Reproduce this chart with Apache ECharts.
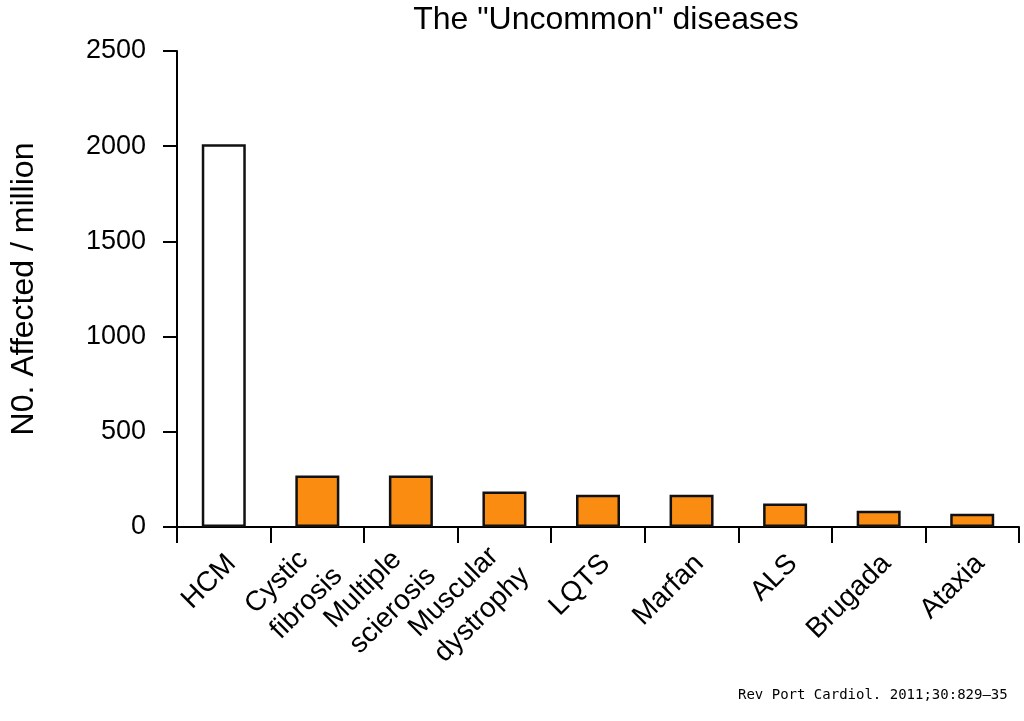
<!DOCTYPE html>
<html>
<head>
<meta charset="utf-8">
<script src="https://cdn.jsdelivr.net/npm/echarts@6/dist/echarts.min.js"></script>
<style>html,body{margin:0;padding:0;background:#fff;}#c{width:1024px;height:721px;}</style>
</head>
<body>
<div id="c"></div>
<script>
const categories = ['HCM', 'Cystic\nfibrosis', 'Multiple\nscierosis', 'Muscular\ndystrophy', 'LQTS', 'Marfan', 'ALS', 'Brugada', 'Ataxia'];
const values = [2010, 270, 270, 187, 170, 170, 124, 86, 70];
const barColors = ['#ffffff', '#fa8c12', '#fa8c12', '#fa8c12', '#fa8c12', '#fa8c12', '#fa8c12', '#fa8c12', '#fa8c12'];
const yTicks = { min: 0, max: 2500, interval: 500 };
const titleText = 'The "Uncommon" diseases';
const yName = 'N0. Affected / million';
const sourceText = 'Rev Port Cardiol. 2011;30:829\u201335';

const chart = echarts.init(document.getElementById('c'));
const FONT = 'Liberation Sans, Arial, Helvetica, sans-serif';
chart.setOption({
  backgroundColor: '#fff',
  animation: false,
  title: {
    text: titleText, left: 601, top: -1, textAlign: 'center',
    textStyle: { fontFamily: FONT, fontSize: 32, fontWeight: 'normal', color: '#000' }
  },
  grid: { left: 176, right: 5, top: 51, bottom: 194, containLabel: false },
  xAxis: {
    type: 'category', data: categories, boundaryGap: true,
    axisLine: { lineStyle: { color: '#000', width: 2 } },
    axisTick: { show: true, length: 16, lineStyle: { color: '#000', width: 2 } },
    axisLabel: {
      interval: 0, rotate: 45, margin: 40, align: 'right', verticalAlign: 'middle',
      padding: [0, -11, 0, 0],
      fontFamily: FONT, fontSize: 28, color: '#000', lineHeight: 36,
      formatter: v => v.split('\n').map(s => '{c|' + s + '}').join('\n'),
      rich: { c: { align: 'left', fontFamily: FONT, fontSize: 28, color: '#000', lineHeight: 36 } }
    },
    splitLine: { show: false }
  },
  yAxis: {
    type: 'value', min: yTicks.min, max: yTicks.max, interval: yTicks.interval,
    name: yName, nameLocation: 'middle', nameGap: 137, nameRotate: 90,
    nameTextStyle: { fontFamily: FONT, fontSize: 32, color: '#000' },
    axisLine: { show: true, lineStyle: { color: '#000', width: 2 } },
    axisTick: { show: true, length: 14, lineStyle: { color: '#000', width: 2 } },
    axisLabel: { margin: 31, fontFamily: FONT, fontSize: 27, color: '#000', formatter: v => String(v) },
    splitLine: { show: false }
  },
  series: [{
    type: 'bar', barWidth: 44,
    data: values.map((v, i) => ({ value: v, itemStyle: { color: barColors[i] } })),
    itemStyle: { borderColor: '#111', borderWidth: 2.5 }
  }],
  graphic: [{
    type: 'text', left: 738, top: 688,
    style: { text: sourceText, font: '14px "DejaVu Sans Mono", monospace', fill: '#000' }
  }]
});
</script>
</body>
</html>
